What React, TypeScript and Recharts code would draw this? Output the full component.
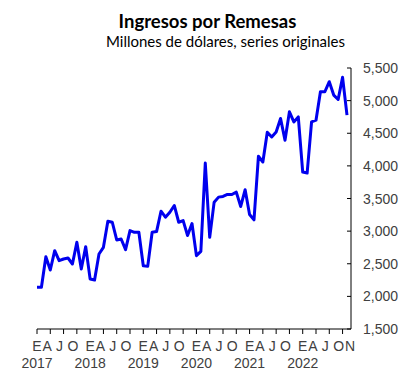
import { Line, LineChart, XAxis, YAxis } from "recharts";

// Meses en español (letra inicial) y años del periodo
const monthLetters = ["E", "F", "M", "A", "M", "J", "J", "A", "S", "O", "N", "D"];
const years = [2017, 2018, 2019, 2020, 2021, 2022];

// Ingresos por remesas, millones de dólares, ene-2017 a nov-2022
const remesas = [
  2140, 2140, 2608, 2404, 2700, 2547, 2573, 2588, 2496, 2829, 2419, 2762,
  2265, 2250, 2650, 2752, 3152, 3136, 2865, 2880, 2716, 3008, 2982, 2982,
  2470, 2460, 2982, 2993, 3305, 3213, 3290, 3393, 3136, 3162, 2932, 3116,
  2624, 2690, 4044, 2905, 3444, 3521, 3531, 3562, 3562, 3598, 3378, 3634,
  3254, 3173, 4147, 4060, 4515, 4443, 4520, 4726, 4392, 4828, 4674, 4751,
  3905, 3890, 4674, 4700, 5136, 5136, 5290, 5085, 5018, 5357, 4777,
];

const yTicks = [1500, 2000, 2500, 3000, 3500, 4000, 4500, 5000, 5500];
const labelMonths = [0, 3, 6, 9]; // E, A, J, O

const data = remesas.map((v, i) => ({
  idx: i,
  month: i % 12,
  year: years[Math.floor(i / 12)],
  value: v,
}));

const lastIdx = data.length - 1;
const xTicks = data.filter((d) => labelMonths.includes(d.month) || d.idx === lastIdx).map((d) => d.idx);

const axisFont = "'Liberation Sans', Arial, sans-serif";
const textColor = "#404040";

// los rótulos del original quedan algo corridos a la izquierda de su marca
const labelShift: Record<number, number> = { 0: 0, 3: -3, 6: -4, 9: -4 };

function MonthTick({ x, y, payload }: { x?: number; y?: number; payload?: { value: number } }) {
  if (x == null || y == null || !payload) return null;
  const d = data[payload.value];
  const isLast = d.idx === lastIdx;
  const lx = isLast ? x + 3 : x + (labelShift[d.month] ?? 0);
  return (
    <g>
      {!isLast && <line x1={x} y1={y} x2={x} y2={y + 5} stroke="#000" strokeWidth={1} />}
      <text x={lx} y={y + 22} textAnchor="middle" fontSize={14} fontFamily={axisFont} fill={textColor}>
        {monthLetters[d.month]}
      </text>
      {d.month === 0 && (
        <text x={x} y={y + 39} textAnchor="middle" fontSize={14} fontFamily={axisFont} fill={textColor}>
          {d.year}
        </text>
      )}
    </g>
  );
}

function ValueTick({ x, y, payload }: { x?: number; y?: number; payload?: { value: number } }) {
  if (x == null || y == null || !payload) return null;
  return (
    <g>
      <line x1={x - 4} y1={y} x2={x} y2={y} stroke="#000" strokeWidth={1} />
      <text x={x + 12} y={y + 5} textAnchor="start" fontSize={14} fontFamily={axisFont} fill={textColor}>
        {payload.value.toLocaleString("en-US")}
      </text>
    </g>
  );
}

export default function App() {
  return (
    <div style={{ position: "absolute", left: 0, top: 0, width: 411, height: 382, background: "#fff" }}>
      <div
        style={{
          position: "absolute",
          left: 0,
          width: 411,
          top: 10,
          textAlign: "center",
          fontFamily: "Lato, 'Open Sans', sans-serif",
          color: "#000",
        }}
      >
        <div style={{ fontWeight: 700, fontSize: 18.5, lineHeight: "22px", marginLeft: 4 }}>Ingresos por Remesas</div>
        <div style={{ fontSize: 15, lineHeight: "19px", marginLeft: 40 }}>Millones de dólares, series originales</div>
      </div>
      <LineChart width={411} height={382} data={data} margin={{ top: 68, right: 0, bottom: 8, left: 37 }}>
        <XAxis
          dataKey="idx"
          type="category"
          ticks={xTicks}
          interval={0}
          tick={<MonthTick />}
          tickLine={false}
          tickSize={0}
          tickMargin={0}
          height={45}
          padding={{ left: 0, right: 4 }}
          axisLine={{ stroke: "#000" }}
        />
        <YAxis
          orientation="right"
          domain={[1500, 5500]}
          ticks={yTicks}
          tick={<ValueTick />}
          tickLine={false}
          tickSize={0}
          tickMargin={0}
          width={60}
          axisLine={{ stroke: "#000" }}
          allowDataOverflow
        />
        <Line
          dataKey="value"
          stroke="#0000ee"
          strokeWidth={3}
          dot={false}
          strokeLinejoin="round"
          isAnimationActive={false}
        />
      </LineChart>
    </div>
  );
}
